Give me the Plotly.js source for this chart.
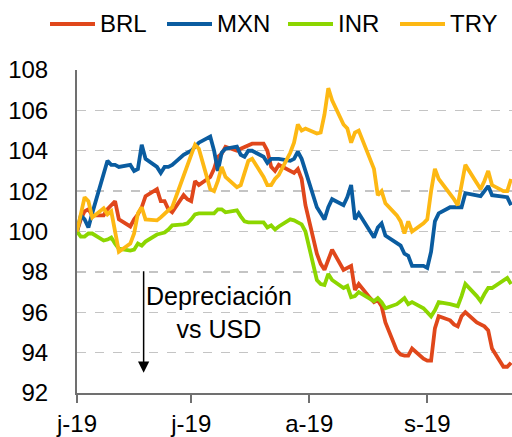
<!DOCTYPE html>
<html>
<head>
<meta charset="utf-8">
<script src="https://cdn.plot.ly/plotly-3.0.1.min.js"></script>
<style>html,body{margin:0;padding:0;background:#fff;}#chart{width:512px;height:437px;}</style>
</head>
<body>
<div id="chart"></div>
<script>
const dates = [
  '2019-06-03','2019-06-04','2019-06-05','2019-06-06','2019-06-07',
  '2019-06-10','2019-06-11','2019-06-12','2019-06-13','2019-06-14',
  '2019-06-17','2019-06-18','2019-06-19','2019-06-20','2019-06-21',
  '2019-06-24','2019-06-25','2019-06-26','2019-06-27','2019-06-28',
  '2019-07-01','2019-07-02','2019-07-03','2019-07-04','2019-07-05',
  '2019-07-08','2019-07-09','2019-07-10','2019-07-11','2019-07-12',
  '2019-07-15','2019-07-16','2019-07-17','2019-07-18','2019-07-19',
  '2019-07-22','2019-07-23','2019-07-24','2019-07-25','2019-07-26',
  '2019-07-29','2019-07-30','2019-07-31','2019-08-01','2019-08-02',
  '2019-08-05','2019-08-06','2019-08-07','2019-08-08','2019-08-09',
  '2019-08-12','2019-08-13','2019-08-14','2019-08-15','2019-08-16',
  '2019-08-19','2019-08-20','2019-08-21','2019-08-22','2019-08-23',
  '2019-08-26','2019-08-27','2019-08-28','2019-08-29','2019-08-30',
  '2019-09-02','2019-09-03','2019-09-04','2019-09-05','2019-09-06',
  '2019-09-09','2019-09-10','2019-09-11','2019-09-12','2019-09-13',
  '2019-09-16','2019-09-17','2019-09-18','2019-09-19','2019-09-20',
  '2019-09-23','2019-09-24','2019-09-25'
];

const BRL = [
  100, 100.6, 101.0, 101.1, 100.8,
  100.8, 101.1, 101.3, 101.5, 100.6,
  100.25, 100.6, 100.85, 101.2, 101.75,
  102.1, 101.5, 101.5, 101.1, 100.95,
  101.8, 101.6, 101.5, 102.5, 102.3,
  102.7, 103.1, 103.7, 103.85, 104.2,
  104.0, 104.1, 104.2, 104.3, 104.35,
  104.35, 104.0, 103.2, 103.0, 103.3,
  103.0, 102.9, 103.1, 102.6, 101.3,
  98.9, 98.4, 98.1, 98.6, 99.1,
  98.1, 98.2, 98.3, 97.1, 97.4,
  96.7, 96.5, 96.6, 96.3, 95.5,
  94.1, 93.9, 93.85, 93.85, 94.2,
  93.7, 93.6, 93.6, 95.2, 95.8,
  95.6, 95.4, 95.3, 95.8, 96.0,
  95.5, 95.4, 95.3, 95.1, 94.2,
  93.3, 93.3, 93.5
];

const MXN = [
  100, 100.8, 100.6, 100.2, 100.9,
  102.8, 103.5, 103.3, 103.3, 103.2,
  103.3, 103.0, 103.1, 104.3, 103.6,
  103.2, 102.9, 103.2, 103.2, 103.3,
  103.8, 103.9, 104.0, 104.2, 104.4,
  104.7, 104.0, 103.0, 103.9, 104.1,
  104.2, 103.8, 103.7, 104.0, 104.0,
  103.7, 103.4, 103.6, 103.6, 103.6,
  103.5, 103.6, 103.95, 103.6, 103.0,
  101.2, 100.9, 100.6, 101.2, 101.6,
  101.3, 101.7, 102.3, 100.6, 100.9,
  100.0, 99.7, 100.2, 100.4, 99.8,
  99.4, 99.3, 98.9, 98.8, 98.3,
  98.3, 98.2, 99.0, 100.5, 100.9,
  101.2, 101.2, 101.2, 101.2, 101.9,
  101.8, 101.75, 102.0, 102.25, 101.8,
  101.7, 101.7, 101.3
];

const INR = [
  100, 99.75, 99.75, 99.9, 99.9,
  99.55, 99.6, 99.7, 99.4, 99.15,
  99.05, 99.1, 99.4, 99.3, 99.5,
  99.85, 99.9, 99.95, 100.1, 100.3,
  100.35, 100.4, 100.6, 100.85, 100.9,
  100.9, 100.9, 101.1, 101.1, 100.95,
  101.05, 100.75, 100.5, 100.45, 100.45,
  100.45, 100.2, 100.3, 100.1, 100.25,
  100.6, 100.55, 100.45, 100.35, 100.0,
  97.6, 97.4, 97.35, 97.9, 97.6,
  97.2, 97.3, 96.75, 96.8, 97.0,
  96.7, 96.55, 96.7, 96.5, 96.2,
  96.4, 96.55, 96.7, 96.4, 96.5,
  96.2, 96.0, 95.8, 96.1, 96.5,
  96.4, 96.35, 96.3, 96.8, 97.4,
  96.8, 96.55, 96.9, 97.2, 97.2,
  97.6, 97.7, 97.4
];

const TRY = [
  100, 100.9, 101.7, 101.5, 100.7,
  101.15, 100.85, 101.0, 99.9, 99.0,
  99.4, 99.9, 100.9, 101.2, 100.6,
  100.55, 100.7, 100.9, 101.05, 101.2,
  102.8, 103.4, 103.8, 104.3, 104.1,
  102.1, 102.0, 102.5, 103.2, 102.7,
  102.2, 102.3, 102.9, 103.5, 103.6,
  102.7, 102.3, 102.3, 102.6, 102.8,
  103.9, 104.4, 105.3, 105.0, 105.1,
  104.85, 104.9, 105.8, 107.1, 106.5,
  105.3, 105.1, 104.4, 104.9, 105.0,
  103.6, 103.1, 101.8, 102.0, 101.4,
  100.8, 100.5, 99.9, 100.5, 100.0,
  100.4, 100.6, 102.0, 103.1, 102.6,
  101.9, 101.6, 101.3, 102.3, 103.3,
  102.4, 102.1, 102.5, 103.0, 102.3,
  102.0, 102.0, 102.6
];

const seriesNames = ['BRL', 'MXN', 'INR', 'TRY'];
const seriesColors = ['#E0471B', '#0A5CA0', '#8CD600', '#FDB813'];
const seriesValues = [BRL, MXN, INR, TRY];

const tickDates = ['2019-06-03', '2019-07-03', '2019-08-03', '2019-09-03'];
const tickLabels = ['j-19', 'j-19', 'a-19', 's-19'];

const FONT = 'Liberation Sans, Arial, sans-serif';
const W = 512, H = 437;
const M = {l: 77, r: 0, t: 70, b: 44};
const PW = W - M.l - M.r, PH = H - M.t - M.b;
const px = v => (v - M.l) / PW;           // page pixel -> paper x
const py = v => (H - M.b - v) / PH;       // page pixel -> paper y

const traces = seriesNames.map((n, i) => ({
  type: 'scatter', mode: 'lines', name: n,
  x: dates, y: seriesValues[i],
  line: {color: seriesColors[i], width: 3.8}
}));

// Legend drawn as short line samples and labels above the plot
const legendLineStart = [50, 167, 288, 400];
const legendLineLen = 45;
const legendTextGap = 3;
const shapes = [];
const annotations = [];
seriesNames.forEach((n, i) => {
  const x0 = legendLineStart[i];
  shapes.push({
    type: 'line', xref: 'paper', yref: 'paper',
    x0: px(x0), x1: px(x0 + legendLineLen), y0: py(24), y1: py(24),
    line: {color: seriesColors[i], width: 4}
  });
  annotations.push({
    xref: 'paper', yref: 'paper', x: px(x0 + legendLineLen + legendTextGap), y: py(23),
    xanchor: 'left', yanchor: 'middle', showarrow: false, text: n,
    font: {family: FONT, size: 24, color: '#000'}
  });
});

annotations.push({
  xref: 'x', yref: 'y', x: '2019-06-20 12:00', y: 93.0,
  ax: 0, ay: -103, axref: 'pixel', ayref: 'pixel',
  text: '', showarrow: true, arrowhead: 2, arrowsize: 1.5, arrowwidth: 1.5, arrowcolor: '#000'
});
annotations.push({
  xref: 'paper', yref: 'y', x: 0.326, y: 96.0,
  xanchor: 'center', yanchor: 'middle', align: 'center',
  text: 'Depreciación<br>vs USD', showarrow: false,
  font: {family: FONT, size: 25, color: '#000'}
});

const layout = {
  width: W, height: H,
  margin: M,
  paper_bgcolor: '#fff', plot_bgcolor: '#fff',
  font: {family: FONT, color: '#000', size: 24},
  showlegend: false,
  xaxis: {
    type: 'date',
    range: ['2019-06-03', '2019-09-25 06:00'],
    tickmode: 'array', tickvals: tickDates, ticktext: tickLabels,
    ticks: 'outside', ticklen: 8, tickwidth: 2, tickcolor: '#707070',
    showline: true, linecolor: '#707070', linewidth: 2,
    showgrid: false, zeroline: false,
    tickfont: {family: FONT, size: 24, color: '#000'}
  },
  yaxis: {
    range: [92, 108],
    tickmode: 'linear', tick0: 92, dtick: 2,
    ticks: '', showline: true, linecolor: '#707070', linewidth: 2,
    showgrid: true, gridcolor: '#c4c4c4', gridwidth: 1.3, griddash: 'dash',
    zeroline: false, ticklabelstandoff: 22,
    tickfont: {family: FONT, size: 24, color: '#000'}
  },
  shapes: shapes,
  annotations: annotations
};

Plotly.newPlot('chart', traces, layout, {displayModeBar: false, staticPlot: true});
</script>
</body>
</html>
